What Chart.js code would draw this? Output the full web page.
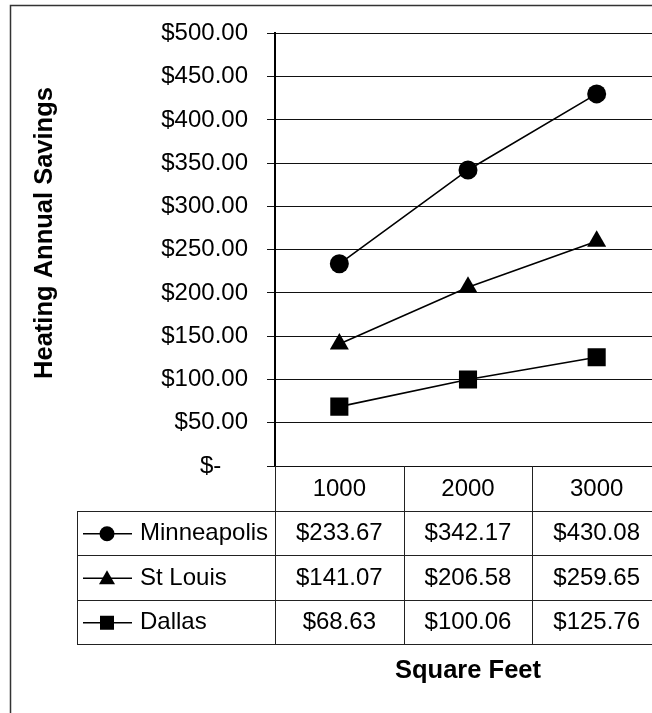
<!DOCTYPE html>
<html>
<head>
<meta charset="utf-8">
<title>Heating Annual Savings</title>
<script src="https://cdn.jsdelivr.net/npm/chart.js"></script>
<style>
    html, body {
        margin: 0;
        padding: 0;
        width: 652px;
        height: 713px;
        overflow: hidden;
        background: #fff;
    }
    #savingsChart {
        display: block;
    }
</style>
</head>
<body>
<canvas id="savingsChart" width="680" height="713"></canvas>
<script>
// Dados
const squareFeet = ['1000', '2000', '3000'];
const minneapolis = [233.67, 342.17, 430.08];
const stLouis = [141.07, 206.58, 259.65];
const dallas = [68.63, 100.06, 125.76];
const cityNames = ['Minneapolis', 'St Louis', 'Dallas'];
const yMin = 0;
const yMax = 500;
const yStep = 50;

const FONT = "'Liberation Sans', Arial, sans-serif";
const INK = '#111';

function money(v) {
    return '$' + v.toFixed(2);
}

// Marcador da legenda (desenhado na tabela)
function drawKeyMarker(ctx, style, x, y) {
    ctx.beginPath();
    if (style === 'circle') {
        ctx.arc(x, y, 7.5, 0, Math.PI * 2);
    } else if (style === 'triangle') {
        ctx.moveTo(x, y - 8);
        ctx.lineTo(x + 8, y + 6);
        ctx.lineTo(x - 8, y + 6);
        ctx.closePath();
    } else {
        ctx.rect(x - 7, y - 7, 14, 14);
    }
    ctx.fill();
}

// Tabela de dados, títulos e moldura
const dataTablePlugin = {
    id: 'dataTable',
    afterDraw(chart) {
        const ctx = chart.ctx;
        const area = chart.chartArea;
        const xScale = chart.scales.x;
        const colW = (area.right - area.left) / squareFeet.length;
        const rowH = 44.5;
        const tableLeft = 77;
        const headTop = area.bottom;
        const bodyTop = headTop + rowH;
        const tableBottom = bodyTop + rowH * chart.data.datasets.length;

        ctx.save();
        ctx.strokeStyle = '#222';
        ctx.lineWidth = 1;

        // linhas horizontais
        for (let r = 0; r <= chart.data.datasets.length; r++) {
            const y = Math.round(bodyTop + r * rowH) + 0.5;
            ctx.beginPath();
            ctx.moveTo(tableLeft, y);
            ctx.lineTo(area.right, y);
            ctx.stroke();
        }

        // linhas verticais
        ctx.beginPath();
        ctx.moveTo(tableLeft + 0.5, Math.round(bodyTop));
        ctx.lineTo(tableLeft + 0.5, Math.round(tableBottom) + 1);
        ctx.stroke();
        for (let c = 0; c <= squareFeet.length; c++) {
            const x = Math.round(area.left + c * colW) + 0.5;
            ctx.beginPath();
            ctx.moveTo(x, headTop);
            ctx.lineTo(x, Math.round(tableBottom) + 1);
            ctx.stroke();
        }

        ctx.fillStyle = '#000';
        ctx.font = '24px ' + FONT;
        ctx.textBaseline = 'middle';

        // cabeçalho (categorias)
        ctx.textAlign = 'center';
        squareFeet.forEach((label, i) => {
            ctx.fillText(label, xScale.getPixelForValue(i), headTop + rowH / 2 + 1);
        });

        // linhas de cada cidade
        chart.data.datasets.forEach((ds, r) => {
            const cy = bodyTop + r * rowH + rowH / 2 + 1;

            ctx.strokeStyle = '#000';
            ctx.lineWidth = 1.5;
            ctx.beginPath();
            ctx.moveTo(83, cy);
            ctx.lineTo(132, cy);
            ctx.stroke();
            drawKeyMarker(ctx, ds.pointStyle, 107, cy);

            ctx.textAlign = 'left';
            ctx.fillText(ds.label, 140, cy);

            ctx.textAlign = 'center';
            ds.data.forEach((v, i) => {
                ctx.fillText(money(v), xScale.getPixelForValue(i), cy);
            });
        });

        // títulos dos eixos
        ctx.font = 'bold 25.5px ' + FONT;
        ctx.textAlign = 'center';
        ctx.fillText('Square Feet', xScale.getPixelForValue(1), 671);

        ctx.save();
        ctx.translate(45, 233);
        ctx.rotate(-Math.PI / 2);
        ctx.fillText('Heating Annual Savings', 0, 0);
        ctx.restore();

        // moldura externa
        ctx.strokeStyle = '#333';
        ctx.lineWidth = 1.5;
        ctx.beginPath();
        ctx.moveTo(10.5, chart.height + 5);
        ctx.lineTo(10.5, 5.5);
        ctx.lineTo(chart.width + 5, 5.5);
        ctx.stroke();

        ctx.restore();
    }
};

const lineStyle = {
    borderColor: '#000',
    backgroundColor: '#000',
    pointBackgroundColor: '#000',
    pointBorderColor: '#000',
    borderWidth: 1.6,
    pointBorderWidth: 0,
    tension: 0,
    fill: false
};

const savingsChart = new Chart(document.getElementById('savingsChart'), {
    type: 'line',
    data: {
        labels: squareFeet,
        datasets: [
            {
                ...lineStyle,
                label: cityNames[0],
                data: minneapolis,
                pointStyle: 'circle',
                pointRadius: 9.5
            },
            {
                ...lineStyle,
                label: cityNames[1],
                data: stLouis,
                pointStyle: 'triangle',
                pointRadius: 11
            },
            {
                ...lineStyle,
                label: cityNames[2],
                data: dallas,
                pointStyle: 'rect',
                pointRadius: 12.8
            }
        ]
    },
    options: {
        responsive: false,
        animation: false,
        devicePixelRatio: 1,
        layout: {
            padding: { left: 0, top: 29, right: 19, bottom: 247 }
        },
        plugins: {
            legend: { display: false },
            tooltip: { enabled: false }
        },
        scales: {
            x: {
                type: 'category',
                offset: true,
                display: false
            },
            y: {
                min: yMin,
                max: yMax,
                afterFit(scale) {
                    scale.width = 275;
                },
                ticks: {
                    stepSize: yStep,
                    padding: 19,
                    color: '#000',
                    font: { family: FONT, size: 24 },
                    callback: (value) => value === 0 ? '$-\u00a0\u00a0\u00a0\u00a0' : money(value)
                },
                grid: {
                    color: INK,
                    lineWidth: 1,
                    tickLength: 8,
                    tickColor: INK,
                    drawTicks: true
                },
                border: {
                    display: true,
                    color: '#000',
                    width: 2
                }
            }
        }
    },
    plugins: [dataTablePlugin]
});
</script>
</body>
</html>
